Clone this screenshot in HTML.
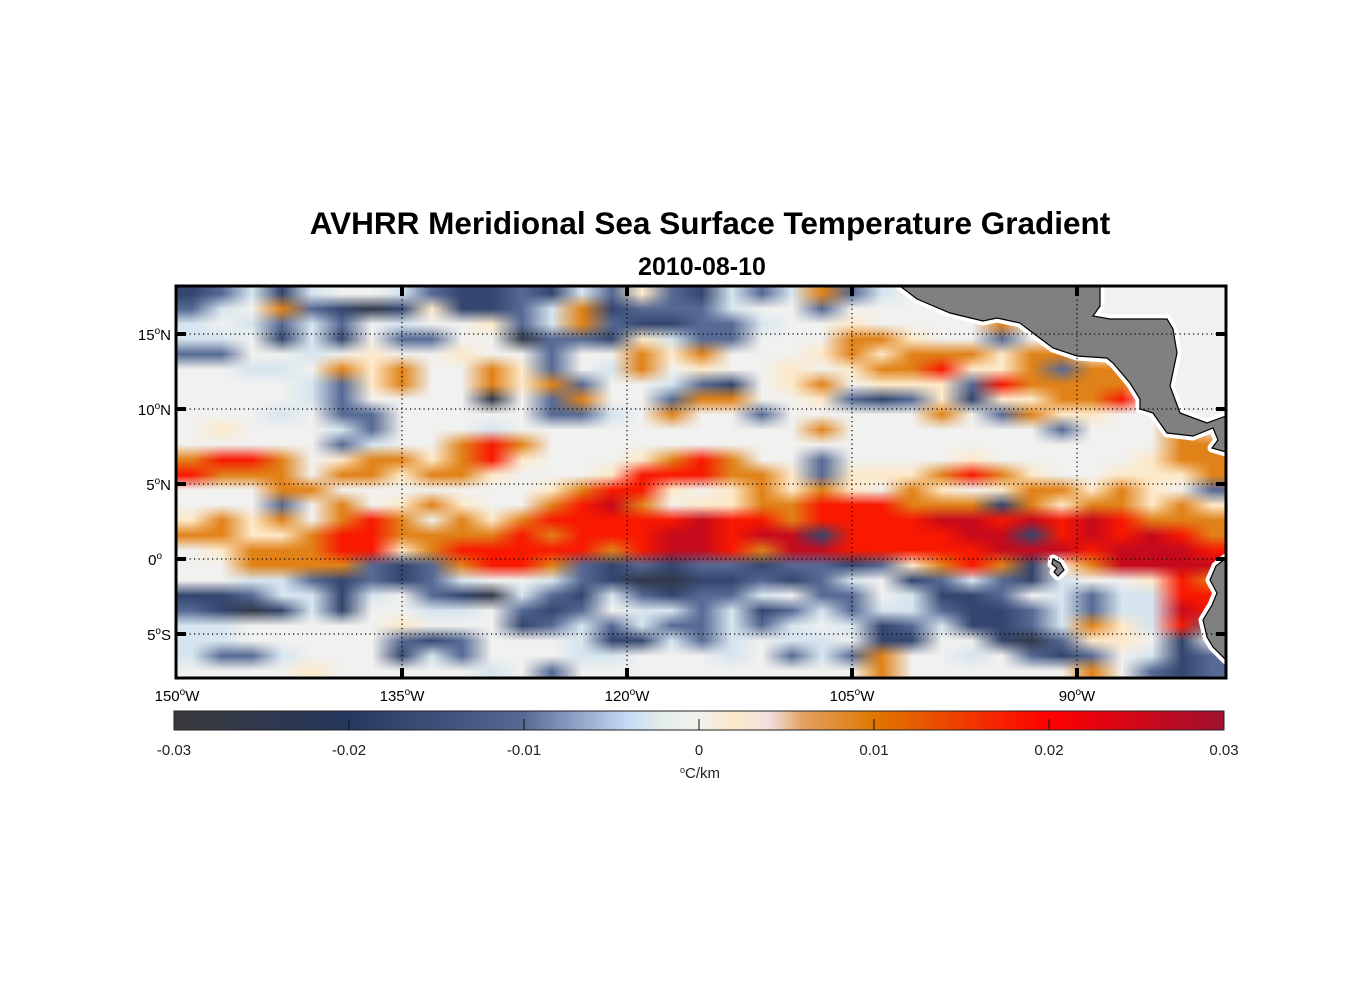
<!DOCTYPE html>
<html><head><meta charset="utf-8">
<style>
html,body{margin:0;padding:0;background:#fff;}
body{width:1356px;height:1000px;overflow:hidden;position:relative;font-family:"Liberation Sans",Arial,sans-serif;}
#heatCanvas{position:absolute;left:176px;top:286px;width:1050px;height:392px;image-rendering:auto;}
#chart{position:absolute;left:0;top:0;}
svg text{font-family:"Liberation Sans",Arial,sans-serif;}
</style></head>
<body>
<canvas id="heatCanvas" width="35" height="26"></canvas>
<svg id="chart" width="1356" height="1000" viewBox="0 0 1356 1000" xmlns="http://www.w3.org/2000/svg">
<defs>
  <clipPath id="plotClip"><rect x="176" y="286" width="1050" height="392"/></clipPath>
  <linearGradient id="cmap" x1="0" x2="1" y1="0" y2="0">
    <stop offset="0" stop-color="#3a3a3c"/>
    <stop offset="0.1667" stop-color="#25375e"/>
    <stop offset="0.3333" stop-color="#566a95"/>
    <stop offset="0.4333" stop-color="#c6dcf5"/>
    <stop offset="0.4667" stop-color="#e6eee8"/>
    <stop offset="0.5" stop-color="#f1f1ef"/>
    <stop offset="0.5333" stop-color="#fde9c9"/>
    <stop offset="0.5667" stop-color="#f0e0e0"/>
    <stop offset="0.6" stop-color="#e2a060"/>
    <stop offset="0.6667" stop-color="#e07800"/>
    <stop offset="0.8333" stop-color="#ff0000"/>
    <stop offset="1" stop-color="#a01030"/>
  </linearGradient>
</defs>
<text x="710" y="234" text-anchor="middle" font-size="31.5" font-weight="bold">AVHRR Meridional Sea Surface Temperature Gradient</text>
<text x="702" y="275" text-anchor="middle" font-size="25" font-weight="bold">2010-08-10</text>
<g clip-path="url(#plotClip)">
  <g id="land"></g>
  <g id="grid"></g>
</g>
<g id="axes"></g>
<g id="cbar"></g>
</svg>
<script>
// ---- data ----
const lonStart = 150;   // degrees W at left cell edge
const lonStep = 2;      // degrees per column
const latStart = 18;    // degrees N at top row edge
const latStep = 1;      // degrees per row
const levelCodes = ['N','n','b','l','.','c','o','r','R'];
const levelValues = [-0.026,-0.017,-0.010,-0.003,0,0.002,0.009,0.018,0.026];
const gridRows = [
"nblnl..lbnnbnlbcbnlblobl...........",
"bl.obnNncnnblonbbbl..b.............",
"l.lblb.l..cblobnnbbl..c....o.......",
"ll.nln.bb..Nbbnclbb...ooc..b.......",
"bb..l.c..c..b..oco...cocooocooc....",
"..ll.oco..ocb.lo.c..c.coorccoboo...",
"....lbco..ocob..lbn.co.cccbroooo...",
"....lb....N.bo..boo..cbnbcnccoor...",
"...l.bb.....bbl.o..b.....o.bocc....",
".c...lb...l..........o.......b...o.",
".....bl..oro.....................oo",
"orro.coocorc...coro..b....c.....coo",
"rooo.oocooc...crrroocbcccoroc..ccco",
"...oo.......corrc.cococ.oc.coococ.b",
"...b.o.coc..orRo.ccoorrrooonocoococ",
"coco.oro.ocorrrrrRrrorrrrRRrRrRrooo",
"ooccorroooororrrRRrRRnrrrrRRnrRrRro",
".cooorrcorrrrrorRRroRRrrrrrRRRrRRRr",
"..oooobnborrobnbnbbnbbnbcoroncoRRRR",
"..llbnbnbl..lbnNNnnbnbl.nblbnl..cro",
"nnbllnl.bnNlbnlbnbbl.bb.lnnb.lbllrr",
"bnNnln..ll.bnb.llblnblbllbnnblbllRr",
"ll.....c...nblblbblbl.lnblnnbloclrb",
"ll.....bnb...lnnlbl.ll.nn..nNbcc.n.",
"lbbl...nlb...ll...l.blbo..l.bnb.lnb",
"....c.....l.b..........o......o.bnb"
];
const lonTicks = [150,135,120,105,90];
const latTicks = [15,10,5,0,-5];
const cbarTicks = [-0.03,-0.02,-0.01,0,0.01,0.02,0.03];
const cbarTickLabels = ['-0.03','-0.02','-0.01','0','0.01','0.02','0.03'];

// ---- scales ----
const NS='http://www.w3.org/2000/svg';
function xOf(lonW){return 177 + (150 - lonW)*15;}
function yOf(lat){return 559 - lat*15;}
const cStops=[[-0.03,[58,58,60]],[-0.02,[37,55,94]],[-0.01,[86,106,149]],[-0.004,[198,220,245]],[-0.002,[230,238,232]],[0,[241,241,239]],[0.002,[253,233,201]],[0.004,[240,224,224]],[0.006,[226,160,96]],[0.01,[224,120,0]],[0.02,[255,0,0]],[0.03,[160,16,48]]];
function colorArr(v){
  v=Math.max(-0.03,Math.min(0.03,v));
  for(let i=0;i<cStops.length-1;i++){
    const a=cStops[i],b=cStops[i+1];
    if(v<=b[0]){const t=(v-a[0])/(b[0]-a[0]);
      return a[1].map((x,k)=>Math.round(x+(b[1][k]-x)*t));}
  }
  return [160,16,48];
}
function mk(tag,attrs,parent){const e=document.createElementNS(NS,tag);for(const k in attrs)e.setAttribute(k,attrs[k]);parent.appendChild(e);return e;}

// ---- heatmap (one canvas pixel per data cell, smoothly upscaled) ----
const cv=document.getElementById('heatCanvas');
const nRows=gridRows.length, nCols=gridRows[0].length;
cv.width=nCols; cv.height=nRows;
const ctx=cv.getContext('2d');
const img=ctx.createImageData(nCols,nRows);
gridRows.forEach((row,j)=>{
  for(let i=0;i<nCols;i++){
    const v=levelValues[levelCodes.indexOf(row[i])];
    const c=colorArr(v);
    const p=(j*nCols+i)*4;
    img.data[p]=c[0];img.data[p+1]=c[1];img.data[p+2]=c[2];img.data[p+3]=255;
  }
});
ctx.putImageData(img,0,0);

// ---- land ----
const land=document.getElementById('land');
const landShapes=[
 [[900,286],[917,299],[950,313],[983,321],[997,318],[1020,323],[1033,333],[1053,348],[1077,356],[1107,358],[1113,363],[1130,383],[1140,399],[1140,409],[1153,413],[1167,433],[1193,436],[1213,428],[1218,440],[1212,448],[1226,452],[1226,416],[1207,423],[1180,413],[1170,386],[1177,353],[1173,329],[1167,319],[1110,319],[1093,316],[1100,306],[1100,286]],
 [[1226,558],[1216,566],[1213,573],[1210,580],[1217,593],[1212,605],[1203,620],[1207,637],[1213,647],[1226,660]],
 [[1053,559],[1060,563],[1064,570],[1058,576],[1054,572],[1057,568],[1052,564]]
];
landShapes.forEach(pts=>{
  const d=pts.map(p=>p.join(',')).join(' ');
  const w=mk('polygon',{points:d,fill:'#fff',stroke:'#fff','stroke-width':9,'stroke-linejoin':'round'},land);
  
  
});
landShapes.forEach(pts=>{
  const d=pts.map(p=>p.join(',')).join(' ');
  const g=mk('polygon',{points:d,fill:'#808080',stroke:'#000','stroke-width':1.2},land);
  
  
});

// ---- grid ----
const grid=document.getElementById('grid');
lonTicks.slice(1).forEach(l=>{
  const ln=mk('line',{x1:xOf(l),x2:xOf(l),y1:286,y2:678,stroke:'#000','stroke-width':1.2,'stroke-dasharray':'1.2 3.3'},grid);
  
  
});
latTicks.forEach(l=>{
  const ln=mk('line',{x1:176,x2:1226,y1:yOf(l),y2:yOf(l),stroke:'#000','stroke-width':1.2,'stroke-dasharray':'1.2 3.3'},grid);
  
  
});

// ---- axes ----
const axes=document.getElementById('axes');
const frame=mk('rect',{x:176,y:286,width:1050,height:392,fill:'none',stroke:'#000','stroke-width':3},axes);


function lbl(txt,x,y,anchor){
  const t=mk('text',{x:x,y:y,'text-anchor':anchor,'font-size':15,fill:'#000'},axes);
  const m=txt.match(/^(-?\d+)(.)$/);
  t.appendChild(document.createTextNode(m[1]));
  const s=mk('tspan',{dy:-6,'font-size':10},t); s.textContent='o';
  const s2=mk('tspan',{dy:6},t); s2.textContent=m[2];
  return t;
}
lonTicks.forEach(l=>{
  const x=xOf(l);
  if(l!==150){
    const a=mk('line',{x1:x,x2:x,y1:286,y2:296,stroke:'#000','stroke-width':4},axes);
    
    
    const b=mk('line',{x1:x,x2:x,y1:668,y2:678,stroke:'#000','stroke-width':4},axes);
    
    
  }
  const t=lbl(l+'W',x,701,'middle');
  
  
});
latTicks.forEach(l=>{
  const y=yOf(l);
  const a=mk('line',{x1:176,x2:186,y1:y,y2:y,stroke:'#000','stroke-width':4},axes);
  
  
  const b=mk('line',{x1:1216,x2:1226,y1:y,y2:y,stroke:'#000','stroke-width':4},axes);
  
  
  let t;
  if(l===0){
    t=mk('text',{x:162,y:y+6,'text-anchor':'end','font-size':15},axes);
    t.appendChild(document.createTextNode('0'));
    const s=mk('tspan',{dy:-6,'font-size':10},t); s.textContent='o';
  } else t=lbl(Math.abs(l)+(l>0?'N':'S'),171,y+6,'end');
  
  
});

// ---- colorbar ----
const cbar=document.getElementById('cbar');
function cx(v){return 174 + (v+0.03)/0.06*1050;}
const cr=mk('rect',{x:174,y:711,width:1050,height:19,fill:'url(#cmap)',stroke:'#222','stroke-width':1},cbar);


cbarTicks.forEach((v,k)=>{
  if(k>0&&k<cbarTicks.length-1){
    const tk=mk('line',{x1:cx(v),x2:cx(v),y1:719,y2:730,stroke:'#111','stroke-width':1},cbar);
    
    
  }
  const t=mk('text',{x:cx(v),y:755,'text-anchor':'middle','font-size':15,fill:'#222'},cbar);
  t.textContent=cbarTickLabels[k];
  
  
});
const ut=mk('text',{x:700,y:778,'text-anchor':'middle','font-size':15,fill:'#222'},cbar);
const us=mk('tspan',{dy:-5,'font-size':9},ut); us.textContent='o';
const us2=mk('tspan',{dy:5},ut); us2.textContent='C/km';


</script>
</body></html>
